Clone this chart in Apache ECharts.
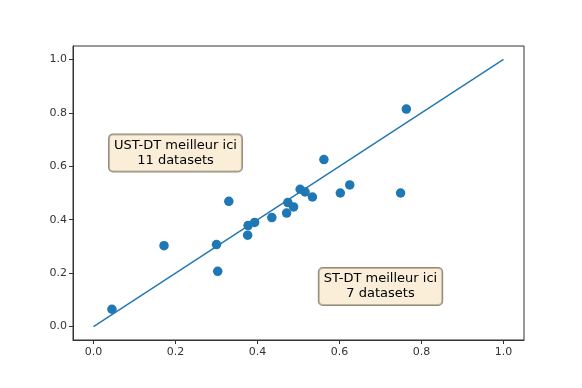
<!DOCTYPE html>
<html>
<head>
<meta charset="utf-8">
<script src="https://cdn.jsdelivr.net/npm/echarts@6/dist/echarts.min.js"></script>
<style>
html,body{margin:0;padding:0;background:#fff;}
#main{width:582px;height:388px;}
</style>
</head>
<body>
<div id="main"></div>
<script>
// x = ST-DT score, y = UST-DT score
var xVals=[0.045,0.172,0.300,0.303,0.330,0.376,0.377,0.393,0.435,0.471,0.474,0.488,0.504,0.516,0.534,0.562,0.602,0.625,0.749,0.763];
var yVals=[0.065,0.303,0.307,0.207,0.469,0.342,0.378,0.390,0.408,0.425,0.464,0.448,0.514,0.504,0.485,0.625,0.500,0.530,0.500,0.814];
var diag=[0,1];
var tickVals=[0,0.2,0.4,0.6,0.8,1.0];
var notes=['UST-DT meilleur ici\n11 datasets','ST-DT meilleur ici\n7 datasets'];
var notePos=[[0.2,0.65],[0.7,0.15]];

var pts=[];
for(var i=0;i<xVals.length;i++){
    pts.push([xVals[i],yVals[i]]);
}
var noteData=[];
for(var j=0;j<notes.length;j++){
    noteData.push({value:notePos[j],name:notes[j]});
}

var font='DejaVu Sans';
var myChart=echarts.init(document.getElementById('main'));
var axisCommon={
    type:'value',
    min:-0.05,
    max:1.05,
    splitLine:{show:false},
    axisLine:{show:true,onZero:false,lineStyle:{color:'#333',width:1}},
    axisTick:{show:true,length:4,customValues:tickVals,lineStyle:{color:'#333'}},
    axisLabel:{customValues:tickVals,fontFamily:font,fontSize:11,color:'#333',
        formatter:function(v){return v.toFixed(1);}}
};
var option={
    animation:false,
    grid:{left:73,right:58,top:46,bottom:48,show:true,borderColor:'#333',borderWidth:1,backgroundColor:'#fff'},
    xAxis:echarts.util.merge({axisLabel:{margin:7}},axisCommon,true),
    yAxis:echarts.util.merge({axisLabel:{margin:6}},axisCommon,true),
    series:[
        {
            type:'line',
            data:[[diag[0],diag[0]],[diag[1],diag[1]]],
            symbol:'none',
            lineStyle:{color:'#1f77b4',width:1.4},
            z:2
        },
        {
            type:'scatter',
            data:pts,
            symbolSize:9.5,
            itemStyle:{color:'#1f77b4',opacity:1},
            z:3
        },
        {
            type:'scatter',
            data:noteData,
            symbolSize:0,
            z:5,
            label:{
                show:true,
                position:'inside',
                formatter:function(p){return p.name;},
                fontFamily:font,
                fontSize:13,
                lineHeight:15,
                color:'#000',
                opacity:1,
                textBorderWidth:0,
                align:'center',
                backgroundColor:'rgba(245,222,179,0.5)',
                borderColor:'#8f8a80',
                borderWidth:1,
                borderRadius:4,
                padding:[4,5,3,5]
            }
        }
    ]
};
myChart.setOption(option);
</script>
</body>
</html>
